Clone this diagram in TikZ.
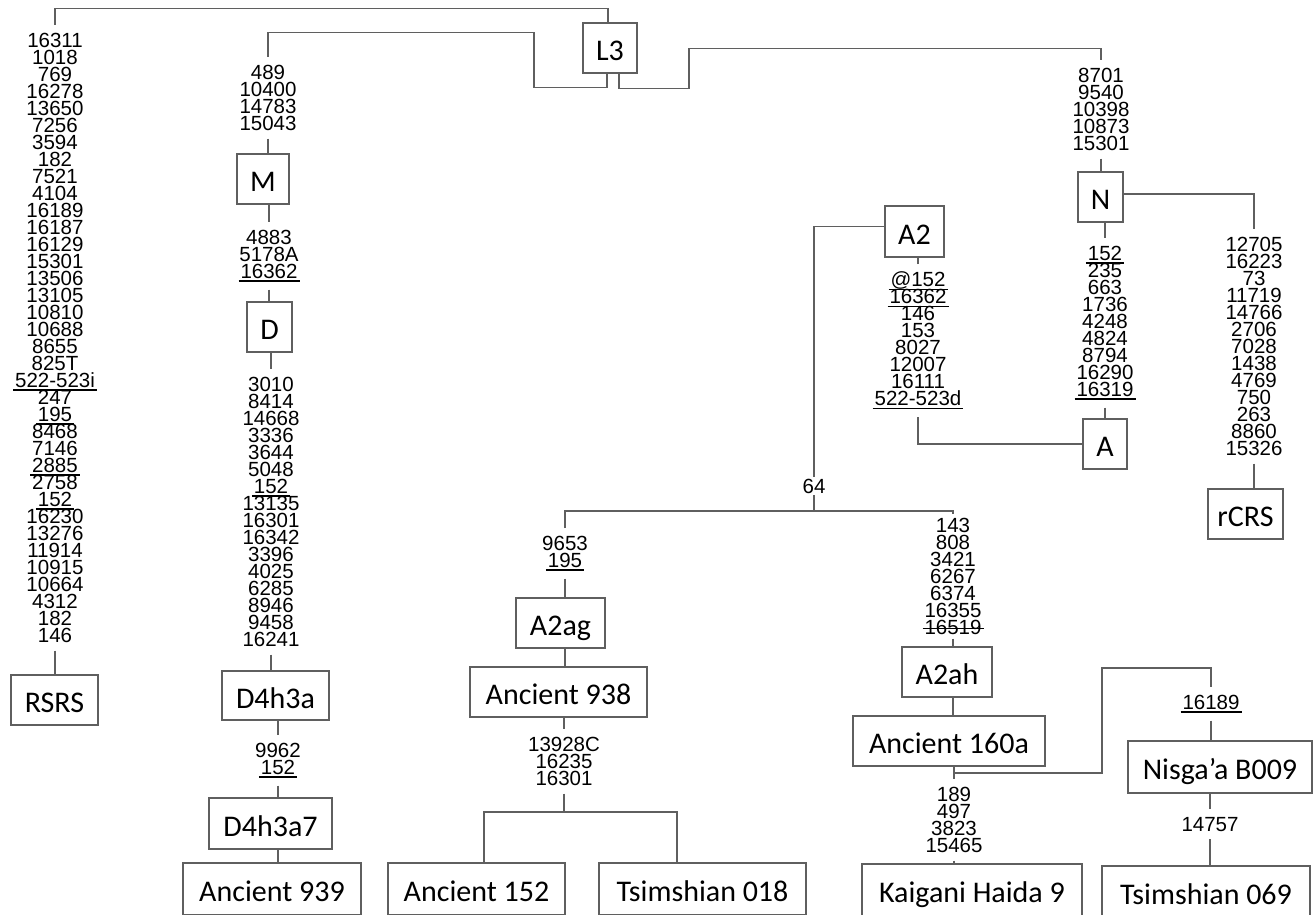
\documentclass[tikz,border=0pt]{standalone}
\usepackage{fontspec}
\setmainfont{Liberation Sans}
\newfontfamily\boxfont{Carlito}
\newdimen\mydim
\newcommand\ulin[1]{\leavevmode\setbox0\hbox{#1}\mydim=\wd0\advance\mydim by 4pt\rlap{\kern-2pt\vrule height -2.1pt depth 3.4pt width \mydim}\box0}
\newcommand\strk[1]{\leavevmode\setbox0\hbox{#1}\mydim=\wd0\advance\mydim by 4pt\rlap{\kern-2pt\vrule height 6.3pt depth -5pt width \mydim}\box0}
\definecolor{ln}{RGB}{95,95,95}
\begin{document}
\lineskiplimit=-100pt
\begin{tikzpicture}[x=1pt,y=-1pt,
  conn/.style={draw=ln,line width=1.3pt},
  box/.style={draw=ln,line width=1.3pt,font=\boxfont\fontsize{30}{30}\selectfont,inner sep=0pt,text height=25pt,text depth=0pt,minimum height=50pt},
  mut/.style={font=\fontsize{20.5}{17}\selectfont,align=center,inner sep=0pt,outer ysep=8pt,anchor=north}
]
\useasboundingbox (0,0) rectangle (1313,914);

% boxes
\node[box,minimum width=54pt] (L3) at (610,48) {L3};
\node[box,minimum width=87pt] (rsrs) at (54.5,700) {RSRS};
\node[box,minimum width=52pt] (M) at (263,179) {M};
\node[box,minimum width=45pt] (D) at (269.5,327) {D};
\node[box,minimum width=107pt,minimum height=49pt] (d4h3a) at (275.5,695.5) {D4h3a};
\node[box,minimum width=123pt,minimum height=51pt] (d4h3a7) at (270.5,823.5) {D4h3a7};
\node[box,minimum width=178pt,minimum height=52pt] (anc939) at (272,889) {Ancient 939};
\node[box,minimum width=45pt] (N) at (1100.5,197) {N};
\node[box,minimum width=44pt] (A) at (1105,444) {A};
\node[box,minimum width=75pt] (rcrs) at (1245.5,514) {rCRS};
\node[box,minimum width=59pt,minimum height=51pt] (A2) at (914.5,231.5) {A2};
\node[box,minimum width=89pt] (a2ag) at (560.5,623) {A2ag};
\node[box,minimum width=177pt] (anc938) at (558.5,692) {Ancient 938};
\node[box,minimum width=177pt,minimum height=52pt] (anc152) at (476.5,889) {Ancient 152};
\node[box,minimum width=207pt,minimum height=52pt] (ts018) at (702.5,889) {Tsimshian 018};
\node[box,minimum width=90pt] (a2ah) at (947,672) {A2ah};
\node[box,minimum width=192pt] (anc160) at (949,741) {Ancient 160a};
\node[box,minimum width=220pt,minimum height=52pt] (kai) at (972,890) {Kaigani Haida 9};
\node[box,minimum width=184pt,minimum height=52pt] (nis) at (1220,767) {Nisga’a B009};
\node[box,minimum width=208pt,minimum height=52pt] (ts069) at (1206,892) {Tsimshian 069};

% mutation lists
\node[mut] (rsrsL) at (55,25) {16311\\1018\\769\\16278\\13650\\7256\\3594\\182\\7521\\4104\\16189\\16187\\16129\\15301\\13506\\13105\\10810\\10688\\8655\\825T\\\ulin{522-523i}\\247\\\ulin{195}\\8468\\7146\\\ulin{2885}\\2758\\\ulin{152}\\16230\\13276\\11914\\10915\\10664\\4312\\182\\146};
\node[mut] (mL) at (268,57) {489\\10400\\14783\\15043};
\node[mut] (dL) at (269,222) {4883\\5178A\\\ulin{16362}};
\node[mut] (d4L) at (271,369) {3010\\8414\\14668\\3336\\3644\\5048\\\ulin{152}\\13135\\16301\\16342\\3396\\4025\\6285\\8946\\9458\\16241};
\node[mut] (d7L) at (278,735) {9962\\\ulin{152}};
\node[mut] (nL) at (1101,60) {8701\\9540\\10398\\10873\\15301};
\node[mut] (aL) at (1105,238) {\ulin{152}\\235\\663\\1736\\4248\\4824\\8794\\16290\\\ulin{16319}};
\node[mut] (rcrsL) at (1254,229) {12705\\16223\\73\\11719\\14766\\2706\\7028\\1438\\4769\\750\\263\\8860\\15326};
\node[mut] (a2L) at (918,264) {\ulin{@152}\\\ulin{16362}\\146\\153\\8027\\12007\\16111\\\ulin{522-523d}};
\node[mut,anchor=center,outer ysep=2pt] (n64) at (814,486) {64};
\node[mut] (agL) at (565,528) {9653\\\ulin{195}};
\node[mut,outer ysep=4pt] (ahL) at (953,514) {143\\808\\3421\\6267\\6374\\16355\\\strk{16519}};
\node[mut] (a938L) at (564,729) {13928C\\16235\\16301};
\node[mut] (kaiL) at (954,779) {189\\497\\3823\\15465};
\node[mut] (nisL) at (1211,687) {\ulin{16189}};
\node[mut] (tsL) at (1210,809) {14757};

% connectors
\draw[conn] ([xshift=-2pt]L3.north) -- ++(0,-14) -| (rsrsL.north);
\draw[conn] ([xshift=-3pt]L3.south) -- ++(0,14) -- ++(-73,0) -- ++(0,-55) -| (mL.north);
\draw[conn] ([xshift=9pt]L3.south) -- ++(0,15) -- ++(70,0) -- ++(0,-40) -| (nL.north);
\draw[conn] (rsrsL.south) -- (rsrsL.south |- rsrs.north);
\draw[conn] (mL.south) -- (mL.south |- M.north);
\draw[conn] (dL.north |- M.south) -- (dL.north);
\draw[conn] (dL.south) -- (dL.south |- D.north);
\draw[conn] (d4L.north |- D.south) -- (d4L.north);
\draw[conn] (d4L.south) -- (d4L.south |- d4h3a.north);
\draw[conn] (d7L.north |- d4h3a.south) -- (d7L.north);
\draw[conn] (d7L.south) -- (d7L.south |- d4h3a7.north);
\draw[conn] (d7L.south |- d4h3a7.south) -- (d7L.south |- anc939.north);
\draw[conn] (nL.south) -- (nL.south |- N.north);
\draw[conn] (aL.north |- N.south) -- (aL.north);
\draw[conn] (aL.south) -- (aL.south |- A.north);
\draw[conn] ([yshift=3pt]N.east) -| (rcrsL.north);
\draw[conn] (rcrsL.south) -- (rcrsL.south |- rcrs.north);
\draw[conn] (A.west) -| (a2L.south);
\draw[conn] (a2L.north) -- (a2L.north |- A2.south);
\draw[conn] ([yshift=5pt]A2.west) -| (n64.north);
\coordinate (j64) at (814,511);
\draw[conn] (n64.south) -- (j64);
\draw[conn] (agL.north) |- (j64) -| (ahL.north);
\draw[conn] (agL.south) -- (agL.south |- a2ag.north);
\draw[conn] (agL.south |- a2ag.south) -- (agL.south |- anc938.north);
\draw[conn] (a938L.north |- anc938.south) -- (a938L.north);
\coordinate (j938) at (564,812);
\draw[conn] (a938L.south) -- (j938);
\draw[conn] ([xshift=7.5pt]anc152.north) |- (j938) -| ([xshift=-25.5pt]ts018.north);
\draw[conn] (ahL.south) -- (ahL.south |- a2ah.north);
\draw[conn] (ahL.south |- a2ah.south) -- (ahL.south |- anc160.north);
\draw[conn] (kaiL.north |- anc160.south) -- (kaiL.north);
\draw[conn] (kaiL.south) -- (kaiL.south |- kai.north);
\coordinate (b160) at (954,773);
\draw[conn] (b160) -- ++(148,0) -- ++(0,-105) -| (nisL.north);
\draw[conn] (nisL.south) -- (nisL.south |- nis.north);
\draw[conn] (tsL.north |- nis.south) -- (tsL.north);
\draw[conn] (tsL.south) -- (tsL.south |- ts069.north);
\end{tikzpicture}
\end{document}
